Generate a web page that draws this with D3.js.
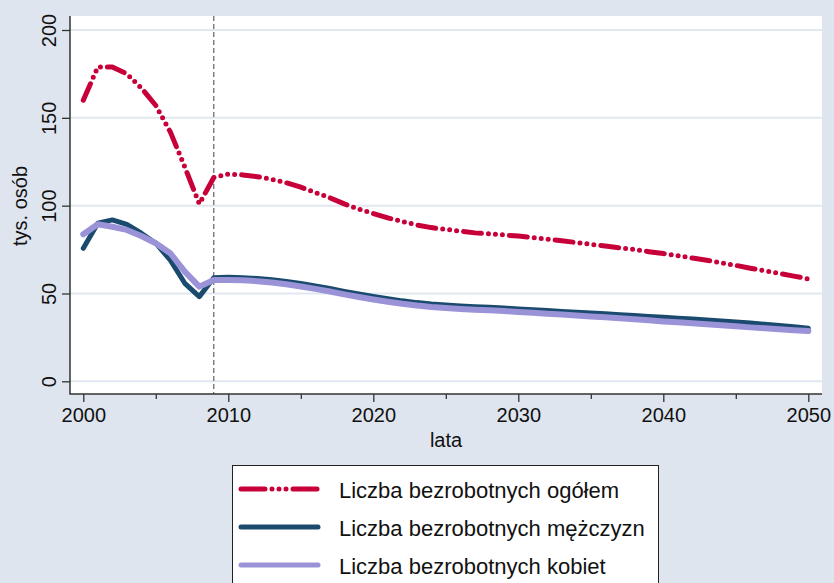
<!DOCTYPE html>
<html>
<head>
<meta charset="utf-8">
<script src="https://cdn.jsdelivr.net/npm/d3@7/dist/d3.min.js"></script>
<style>
  body { margin: 0; background: #dfe5ef; }
  svg { display: block; font-family: 'Liberation Sans', Arial, sans-serif; }
</style>
</head>
<body>
<svg id="chart" width="834" height="583"></svg>
<script>
// data (thousands of persons)
const years = d3.range(2000, 2051)
const total = [160, 179, 179, 175, 167, 157, 142, 122, 101, 116,
  118, 117.5, 116.5, 115, 113, 110.5, 107.5, 104.5, 101, 98,
  95.5, 93, 91, 89, 87.5, 86.5, 85.5, 84.5, 84, 83.3,
  82.7, 81.8, 81, 80, 79, 78, 77, 76, 75, 73.8,
  72.7, 71.5, 70.2, 68.9, 67.5, 66, 64.4, 62.9, 61.4, 59.9, 58.3]
const men = [75.7, 90, 91.9, 89.4, 84.3, 78.6, 69, 55.8, 48.2, 59,
  59.2, 59, 58.5, 57.8, 56.8, 55.7, 54.3, 52.8, 51.2, 49.7,
  48.3, 47, 45.8, 44.8, 44, 43.4, 42.9, 42.5, 42.1, 41.7,
  41.2, 40.8, 40.3, 39.8, 39.3, 38.9, 38.4, 37.9, 37.4, 36.9,
  36.4, 35.9, 35.4, 34.9, 34.4, 33.8, 33.2, 32.5, 31.8, 31, 30.2]
const women = [83.7, 89.4, 88, 86.2, 82.7, 78.6, 72.9, 62.4, 53.9, 57.7,
  57.7, 57.5, 57, 56.2, 55.2, 54, 52.6, 51.1, 49.5, 48,
  46.6, 45.3, 44.1, 43.1, 42.3, 41.7, 41.2, 40.8, 40.4, 40,
  39.5, 39, 38.5, 38, 37.4, 36.9, 36.4, 35.9, 35.3, 34.7,
  34.1, 33.6, 33.1, 32.5, 31.9, 31.3, 30.7, 30.2, 29.6, 29.1, 28.6]
const seriesNames = ['Liczba bezrobotnych ogółem', 'Liczba bezrobotnych mężczyzn', 'Liczba bezrobotnych kobiet']
const xTicks = [2000, 2010, 2020, 2030, 2040, 2050]
const xMinorTicks = [2005, 2015, 2025, 2035, 2045]
const yTicks = [0, 50, 100, 150, 200]
const markerYear = 2009

const svg = d3.select('#chart')

// plot region (white box) and the scale ranges inside it
const box = { left: 70, right: 822, top: 16, bottom: 394 }
const x = d3.scaleLinear().domain([2000, 2050]).range([83.3, 808.3])
const y = d3.scaleLinear().domain([0, 200]).range([381.3, 30])

svg.append('rect')
  .attr('x', box.left).attr('y', box.top)
  .attr('width', box.right - box.left).attr('height', box.bottom - box.top)
  .attr('fill', '#fff')

// gridlines
svg.append('g')
  .selectAll('line')
  .data(yTicks)
  .enter().append('line')
  .attr('x1', box.left).attr('x2', box.right)
  .attr('y1', d => y(d)).attr('y2', d => y(d))
  .attr('stroke', '#e1e7f1').attr('stroke-width', 2)

// vertical dashed line at 2009
svg.append('line')
  .attr('x1', x(markerYear)).attr('x2', x(markerYear))
  .attr('y1', box.top).attr('y2', box.bottom)
  .attr('stroke', '#444').attr('stroke-width', 1)
  .attr('stroke-dasharray', '5,3')

const line = vals => d3.line()
  .x((d, i) => x(years[i]))
  .y(d => y(d))(vals)

const styles = [
  { color: '#c8003a', width: 5, dash: '18,7,0,7,0,7,0,7' },
  { color: '#1a4a6e', width: 5, dash: null },
  { color: '#9b93d8', width: 6, dash: null }
]
const allSeries = [total, men, women]

allSeries.forEach(function (vals, i) {
  svg.append('path')
    .attr('d', line(vals))
    .attr('fill', 'none')
    .attr('stroke', styles[i].color)
    .attr('stroke-width', styles[i].width)
    .attr('stroke-linecap', 'round')
    .attr('stroke-linejoin', 'round')
    .attr('stroke-dasharray', styles[i].dash)
})

// axes
const xAxis = svg.append('g')
  .attr('transform', 'translate(0,' + box.bottom + ')')
  .call(d3.axisBottom(x).tickValues(xTicks).tickSize(8).tickPadding(6).tickFormat(d3.format('d')))
xAxis.select('.domain').remove()
xAxis.selectAll('text').attr('font-size', 20).attr('fill', '#111')
xAxis.selectAll('line').attr('stroke', '#333').attr('stroke-width', 1.3)

svg.append('g')
  .attr('transform', 'translate(0,' + box.bottom + ')')
  .call(d3.axisBottom(x).tickValues(xMinorTicks).tickSize(5).tickFormat(''))
  .call(g => g.select('.domain').remove())
  .selectAll('line').attr('stroke', '#333').attr('stroke-width', 1.3)

const yAxis = svg.append('g')
  .attr('transform', 'translate(' + box.left + ',0)')
  .call(d3.axisLeft(y).tickValues(yTicks).tickSize(8).tickPadding(0))
yAxis.select('.domain').remove()
yAxis.selectAll('line').attr('stroke', '#333').attr('stroke-width', 1.3)
// rotated tick labels, like the original
yAxis.selectAll('text')
  .attr('font-size', 20).attr('fill', '#111')
  .attr('text-anchor', 'middle')
  .attr('dy', null)
  .attr('x', 0).attr('y', 0)
  .attr('transform', 'translate(-19,0) rotate(-90)')
  .attr('dominant-baseline', 'middle')

// axis lines
svg.append('path')
  .attr('d', 'M' + box.left + ',' + box.top + 'V' + box.bottom + 'H' + box.right)
  .attr('fill', 'none').attr('stroke', '#333').attr('stroke-width', 1.5)

// axis titles
svg.append('text')
  .attr('x', (box.left + box.right) / 2).attr('y', 447)
  .attr('text-anchor', 'middle').attr('font-size', 20).attr('fill', '#111')
  .text('lata')

svg.append('text')
  .attr('transform', 'translate(27,206) rotate(-90)')
  .attr('text-anchor', 'middle').attr('font-size', 20).attr('fill', '#111')
  .text('tys. osób')

// legend
const legend = svg.append('g')
legend.append('rect')
  .attr('x', 232.5).attr('y', 465.5).attr('width', 426).attr('height', 140)
  .attr('fill', '#fff').attr('stroke', '#222').attr('stroke-width', 1)

seriesNames.forEach(function (name, i) {
  const ly = 489 + i * 38
  legend.append('line')
    .attr('x1', 241).attr('x2', 318)
    .attr('y1', ly).attr('y2', ly)
    .attr('stroke', styles[i].color)
    .attr('stroke-width', 5)
    .attr('stroke-linecap', 'round')
    .attr('stroke-dasharray', i === 0 ? '24,7,0,7,0,7,0,7' : null)
  legend.append('text')
    .attr('x', 339).attr('y', ly + 9)
    .attr('font-size', 22).attr('fill', '#111')
    .text(name)
})
</script>
</body>
</html>
